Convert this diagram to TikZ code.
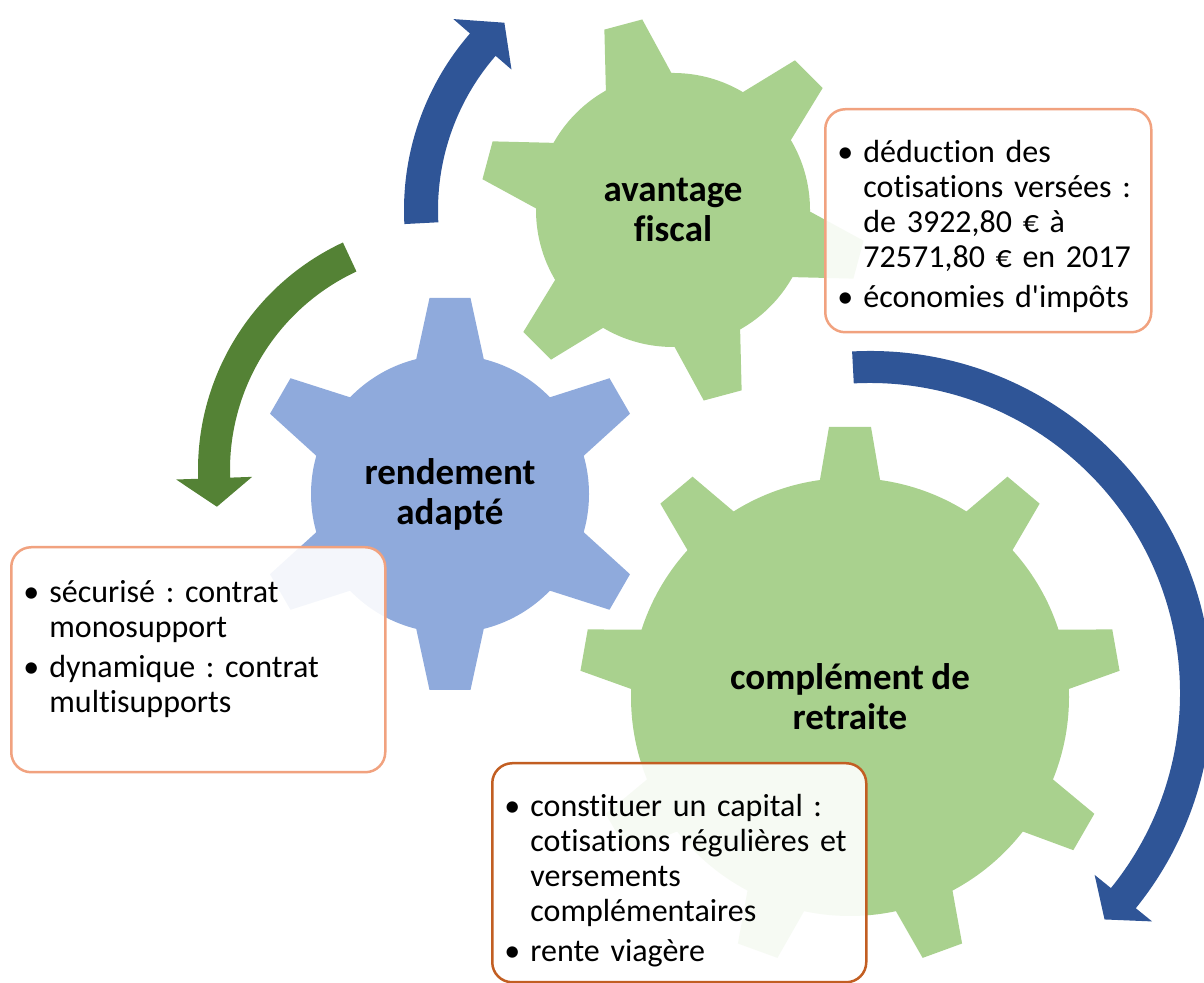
\documentclass[tikz,border=0pt]{standalone}
\usepackage{fontspec}
\newfontfamily\calibri{Carlito}[Ligatures=NoCommon, WordSpace=0.9]
\usetikzlibrary{positioning}

\definecolor{geargreen}{HTML}{A9D18E}
\definecolor{gearblue}{HTML}{8FAADC}
\definecolor{arrowblue}{HTML}{2F5597}
\definecolor{arrowgreen}{HTML}{548235}
\definecolor{boxpeach}{HTML}{F1A27F}
\definecolor{boxbrown}{HTML}{C25E22}

% bullet paragraph with hanging indent
\newcommand{\puce}[1]{\par\noindent\hangindent=13pt\hangafter=1\strut\makebox[13pt][l]{•}#1\par\vspace{2.5pt}}

\begin{document}
\frenchspacing
\begin{tikzpicture}[x=0.5pt, y=0.5pt]
	\tikzset{gearlabel/.style = {font=\calibri\bfseries\fontsize{18.5pt}{20pt}\selectfont,
	align=center, inner sep=0pt},
	infobox/.style = {draw=#1, line width=1.25pt, rounded corners=10pt, fill=white,
	fill opacity=0.9, anchor=north west, inner sep=0pt},
	infotext/.style = {font=\calibri\fontsize{16pt}{17.5pt}\selectfont, text width=#1,
	align=left, inner sep=0pt}}
	
	\useasboundingbox (0,0) rectangle (1204,983);
	\clip (0,0) rectangle (1204,983);
	
	% gears
	\begin{scope}[shift={(673,773)}]
		\fill[geargreen] (0,0) circle (137);
		\foreach \a in {105,165,...,405}
			\fill[geargreen, rotate=\a] (120,-37) -- (192,-19.6) -- (192,19.6) -- (120,37) -- cycle;
	\end{scope}
	\begin{scope}[shift={(450,489)}]
		\fill[gearblue] (0,0) circle (139);
		\foreach \a in {90,150,...,390}
			\fill[gearblue, rotate=\a] (120,-37) -- (196,-20.5) -- (196,20.5) -- (120,37) -- cycle;
	\end{scope}
	\begin{scope}[shift={(850,286)}]
		\fill[geargreen] (0,0) circle (219);
		\foreach \a in {90,130,...,410}
			\fill[geargreen, rotate=\a] (200,-33) -- (270,-21) -- (270,21) -- (200,33) -- cycle;
	\end{scope}
	
	% circular arrows
	\begin{scope}[shift={(673,773)}]
		\fill[arrowblue] (183:269) arc[start angle=183, end angle=139, radius=269]
			-- (139:291) -- (132:252) -- (139:214) -- (139:235)
			arc[start angle=139, end angle=183, radius=235] -- cycle;
	\end{scope}
	\begin{scope}[shift={(449,513)}]
		\fill[arrowgreen] (115:251) arc[start angle=115, end angle=182, radius=251]
			-- (182:273) -- (189:235) -- (182:197) -- (182:219)
			arc[start angle=182, end angle=115, radius=219] -- cycle;
	\end{scope}
	\begin{scope}[shift={(870,290)}]
		\fill[arrowblue] (93:342) arc[start angle=93, end angle=-39, radius=342]
			-- (-39:363) -- (-44:326) -- (-39:289) -- (-39:310)
			arc[start angle=-39, end angle=93, radius=310] -- cycle;
	\end{scope}
	
	% gear labels
	\node[gearlabel] (fiscal) at (673,773) {avantage\\fiscal};
	\node[gearlabel] (rendement) at (450,489) {rendement\\adapté};
	\node[gearlabel] (retraite) at (850,286) {complément de\\retraite};
	
	% text boxes
	\node[infobox=boxpeach, minimum width=163pt, minimum height=111.5pt] (box_fiscal) at (824,875) {};
	\node[infotext=150pt, below right=9.75pt and 6.5pt of box_fiscal.north west] (txt_fiscal)
		{\puce{déduction des\newline cotisations versées :\newline de 3922,80 € à\newline 72571,80 € en 2017}\puce{économies d'impôts}};
	
	\node[infobox=boxpeach, minimum width=187pt, minimum height=112.5pt] (box_rendement) at (10,437) {};
	\node[infotext=175pt, below right=10.75pt and 6.5pt of box_rendement.north west] (txt_rendement)
		{\puce{sécurisé : contrat\newline monosupport}\puce{dynamique : contrat\newline multisupports}};
	
	\node[infobox=boxbrown, minimum width=187pt, minimum height=109.5pt] (box_retraite) at (491,221) {};
	\node[infotext=175pt, below right=9.75pt and 6.5pt of box_retraite.north west] (txt_retraite)
		{\puce{constituer un capital :\newline cotisations régulières et\newline versements\newline complémentaires}\puce{rente viagère}};
\end{tikzpicture}
\end{document}
